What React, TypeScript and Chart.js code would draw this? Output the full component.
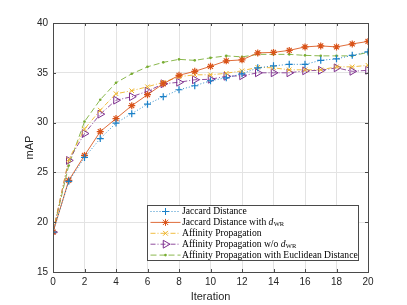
import React, { useEffect, useRef } from "react";
import { Chart, registerables } from "chart.js";

Chart.register(...registerables);

const iterations = [0, 1, 2, 3, 4, 5, 6, 7, 8, 9, 10, 11, 12, 13, 14, 15, 16, 17, 18, 19, 20];
const jaccard = [19.0, 24.1, 26.5, 28.4, 29.95, 30.9, 31.85, 32.6, 33.3, 33.7, 34.2, 34.5, 34.9, 35.5, 35.7, 35.85, 35.85, 36.25, 36.4, 36.75, 37.1];
const jaccardWR = [19.0, 24.2, 26.7, 29.1, 30.4, 31.7, 32.8, 33.9, 34.75, 35.15, 35.65, 36.2, 36.3, 37.0, 37.05, 37.25, 37.6, 37.7, 37.6, 37.9, 38.15];
const affinity = [19.0, 26.3, 29.35, 31.25, 32.9, 33.2, 33.6, 34.05, 34.6, 34.8, 34.8, 34.95, 35.2, 35.55, 35.5, 35.3, 35.3, 35.3, 35.6, 35.6, 35.75];
const affinityNoWR = [19.0, 26.2, 28.9, 30.85, 32.25, 32.6, 33.15, 33.9, 34.05, 34.3, 34.35, 34.65, 34.7, 35.0, 35.0, 35.0, 35.2, 35.25, 35.5, 35.15, 35.25];
const euclidean = [19.0, 25.7, 30.1, 32.3, 34.0, 34.9, 35.6, 36.05, 36.35, 36.25, 36.5, 36.7, 36.6, 36.85, 36.85, 36.85, 36.75, 36.7, 36.7, 36.7, 37.05];

const seriesLabels = [
  "Jaccard Distance",
  "Jaccard Distance with d_WR",
  "Affinity Propagation",
  "Affinity Propagation w/o d_WR",
  "Affinity Propagation with Euclidean Distance",
];
const xTicksStep = 2;
const yMin = 15;
const yMax = 40;
const yStep = 5;

const AXIS_COLOR = "#262626";
const FRAME_COLOR = "#4a4a4a";

const toPts = (ys: number[]) => ys.map((y, i) => ({ x: iterations[i], y }));

const framePlugin = {
  id: "frame",
  afterDraw(chart: any) {
    const { ctx, chartArea: a, scales } = chart;
    ctx.save();
    ctx.strokeStyle = FRAME_COLOR;
    ctx.lineWidth = 1;
    ctx.setLineDash([]);
    const L = 3;
    ctx.beginPath();
    scales.x.ticks.forEach((t: any) => {
      const px = Math.round(scales.x.getPixelForValue(t.value)) + 0.5;
      ctx.moveTo(px, a.bottom);
      ctx.lineTo(px, a.bottom - L);
      ctx.moveTo(px, a.top);
      ctx.lineTo(px, a.top + L);
    });
    scales.y.ticks.forEach((t: any) => {
      const py = Math.round(scales.y.getPixelForValue(t.value)) + 0.5;
      ctx.moveTo(a.left, py);
      ctx.lineTo(a.left + L, py);
      ctx.moveTo(a.right, py);
      ctx.lineTo(a.right - L, py);
    });
    ctx.stroke();
    ctx.strokeRect(Math.round(a.left) + 0.5, Math.round(a.top) + 0.5, Math.round(a.right - a.left), Math.round(a.bottom - a.top));
    ctx.restore();
  },
};

function drawMarker(ctx: CanvasRenderingContext2D, ds: any, x: number, y: number) {
  const r = ds.pointRadius;
  const style = ds.pointStyle;
  ctx.beginPath();
  if (style === "cross") {
    ctx.moveTo(x - r, y); ctx.lineTo(x + r, y);
    ctx.moveTo(x, y - r); ctx.lineTo(x, y + r);
    ctx.stroke();
  } else if (style === "crossRot") {
    const d = r * 0.75;
    ctx.moveTo(x - d, y - d); ctx.lineTo(x + d, y + d);
    ctx.moveTo(x - d, y + d); ctx.lineTo(x + d, y - d);
    ctx.stroke();
  } else if (style === "star") {
    const d = r * 0.75;
    ctx.moveTo(x - r, y); ctx.lineTo(x + r, y);
    ctx.moveTo(x, y - r); ctx.lineTo(x, y + r);
    ctx.moveTo(x - d, y - d); ctx.lineTo(x + d, y + d);
    ctx.moveTo(x - d, y + d); ctx.lineTo(x + d, y - d);
    ctx.stroke();
  } else if (style === "triangle") {
    ctx.moveTo(x + r, y);
    ctx.lineTo(x - r * 0.5, y - r * 0.87);
    ctx.lineTo(x - r * 0.5, y + r * 0.87);
    ctx.closePath();
    ctx.stroke();
  } else {
    ctx.arc(x, y, r, 0, Math.PI * 2);
    ctx.fill();
  }
}

const legendPlugin = {
  id: "boxLegend",
  afterDatasetsDraw(chart: any) {
    const { ctx } = chart;
    const bx = 147.5, by = 205.5, bw = 211, bh = 55;
    ctx.save();
    ctx.fillStyle = "#ffffff";
    ctx.fillRect(bx, by, bw, bh);
    ctx.strokeStyle = "#4a4a4a";
    ctx.lineWidth = 1;
    ctx.setLineDash([]);
    ctx.strokeRect(bx, by, bw, bh);
    const rowH = 10.9;
    const mainFont = '9.6px "Liberation Serif"';
    chart.data.datasets.forEach((ds: any, i: number) => {
      const cy = by + 6 + rowH * i;
      ctx.save();
      ctx.strokeStyle = ds.borderColor;
      ctx.lineWidth = 1;
      ctx.setLineDash(ds.borderDash || []);
      ctx.beginPath();
      ctx.moveTo(bx + 3, cy);
      ctx.lineTo(bx + 33, cy);
      ctx.stroke();
      ctx.setLineDash([]);
      ctx.fillStyle = ds.pointBorderColor;
      ctx.strokeStyle = ds.pointBorderColor;
      ctx.lineWidth = 1;
      drawMarker(ctx, ds, bx + 18, cy);
      ctx.restore();
      ctx.fillStyle = "#000000";
      ctx.textBaseline = "middle";
      ctx.textAlign = "left";
      let tx = bx + 34.5;
      const label: string = ds.label;
      const idx = label.indexOf("d_WR");
      if (idx >= 0) {
        const pre = label.slice(0, idx);
        ctx.font = mainFont;
        ctx.fillText(pre, tx, cy);
        tx += ctx.measureText(pre).width;
        ctx.font = 'italic 9.6px "Liberation Serif"';
        ctx.fillText("d", tx, cy);
        tx += ctx.measureText("d").width;
        ctx.font = '6.5px "Liberation Serif"';
        ctx.fillText("WR", tx + 0.3, cy + 2.2);
      } else {
        ctx.font = mainFont;
        ctx.fillText(label, tx, cy);
      }
    });
    ctx.restore();
  },
};

export default function App() {
  const ref = useRef<HTMLCanvasElement | null>(null);
  useEffect(() => {
    document.body.style.margin = "0";
    const canvas = ref.current!;
    const chart = new Chart(canvas, {
      type: "line",
      data: {
        datasets: [
          {
            label: seriesLabels[0],
            data: toPts(jaccard),
            borderColor: "rgba(0,114,189,0.8)",
            backgroundColor: "#0072BD",
            borderWidth: 1,
            borderDash: [1, 2],
            pointStyle: "cross",
            pointRadius: 3.5,
            pointBorderWidth: 1.2,
            pointBorderColor: "#1a80c8",
            pointBackgroundColor: "#1a80c8",
          },
          {
            label: seriesLabels[1],
            data: toPts(jaccardWR),
            borderColor: "rgba(217,83,25,0.85)",
            backgroundColor: "#D95319",
            borderWidth: 1,
            borderDash: [],
            pointStyle: "star",
            pointRadius: 3.5,
            pointBorderWidth: 1.2,
            pointBorderColor: "#D95319",
            pointBackgroundColor: "#D95319",
          },
          {
            label: seriesLabels[2],
            data: toPts(affinity),
            borderColor: "rgba(237,177,32,0.85)",
            backgroundColor: "#EDB120",
            borderWidth: 1,
            borderDash: [5, 2, 1, 2],
            pointStyle: "crossRot",
            pointRadius: 3.2,
            pointBorderWidth: 1,
            pointBorderColor: "#EDB120",
            pointBackgroundColor: "#EDB120",
          },
          {
            label: seriesLabels[3],
            data: toPts(affinityNoWR),
            borderColor: "rgba(126,47,142,0.85)",
            backgroundColor: "#7E2F8E",
            borderWidth: 1,
            borderDash: [5, 2, 1, 2],
            pointStyle: "triangle",
            pointRotation: 90,
            pointRadius: 4.5,
            pointBorderWidth: 1,
            pointBorderColor: "#7E2F8E",
            pointBackgroundColor: "rgba(0,0,0,0)",
          },
          {
            label: seriesLabels[4],
            data: toPts(euclidean),
            borderColor: "rgba(119,172,48,0.85)",
            backgroundColor: "#77AC30",
            borderWidth: 1,
            borderDash: [6, 3],
            pointStyle: "circle",
            pointRadius: 1.3,
            pointBorderWidth: 0,
            pointBorderColor: "#77AC30",
            pointBackgroundColor: "#77AC30",
          },
        ],
      },
      options: {
        responsive: false,
        animation: false,
        layout: { padding: { top: 23, right: 39, left: 0, bottom: 0 } },
        plugins: {
          legend: { display: false },
          tooltip: { enabled: false },
        },
        scales: {
          x: {
            type: "linear",
            min: 0,
            max: 20,
            afterFit: (s: any) => { s.height = 33; },
            ticks: {
              stepSize: xTicksStep,
              padding: 4,
              color: AXIS_COLOR,
              font: { family: "Liberation Sans", size: 10 },
            },
            grid: { color: "#e3e3e3", drawTicks: false },
            border: { display: false },
            title: {
              display: true,
              text: "Iteration",
              color: AXIS_COLOR,
              font: { family: "Liberation Sans", size: 11 },
              padding: { top: 0, bottom: 1 },
            },
          },
          y: {
            type: "linear",
            min: yMin,
            max: yMax,
            afterFit: (s: any) => { s.width = 53; },
            ticks: {
              stepSize: yStep,
              padding: 5,
              color: AXIS_COLOR,
              font: { family: "Liberation Sans", size: 10 },
            },
            grid: { color: "#e3e3e3", drawTicks: false },
            border: { display: false },
            title: {
              display: true,
              text: "mAP",
              color: AXIS_COLOR,
              font: { family: "Liberation Sans", size: 11 },
              padding: { top: 23, bottom: 0 },
            },
          },
        },
      },
      plugins: [framePlugin, legendPlugin],
    } as any);
    return () => chart.destroy();
  }, []);
  return (
    <div style={{ width: 407, height: 305 }}>
      <canvas ref={ref} width={407} height={305} style={{ display: "block" }} />
    </div>
  );
}
